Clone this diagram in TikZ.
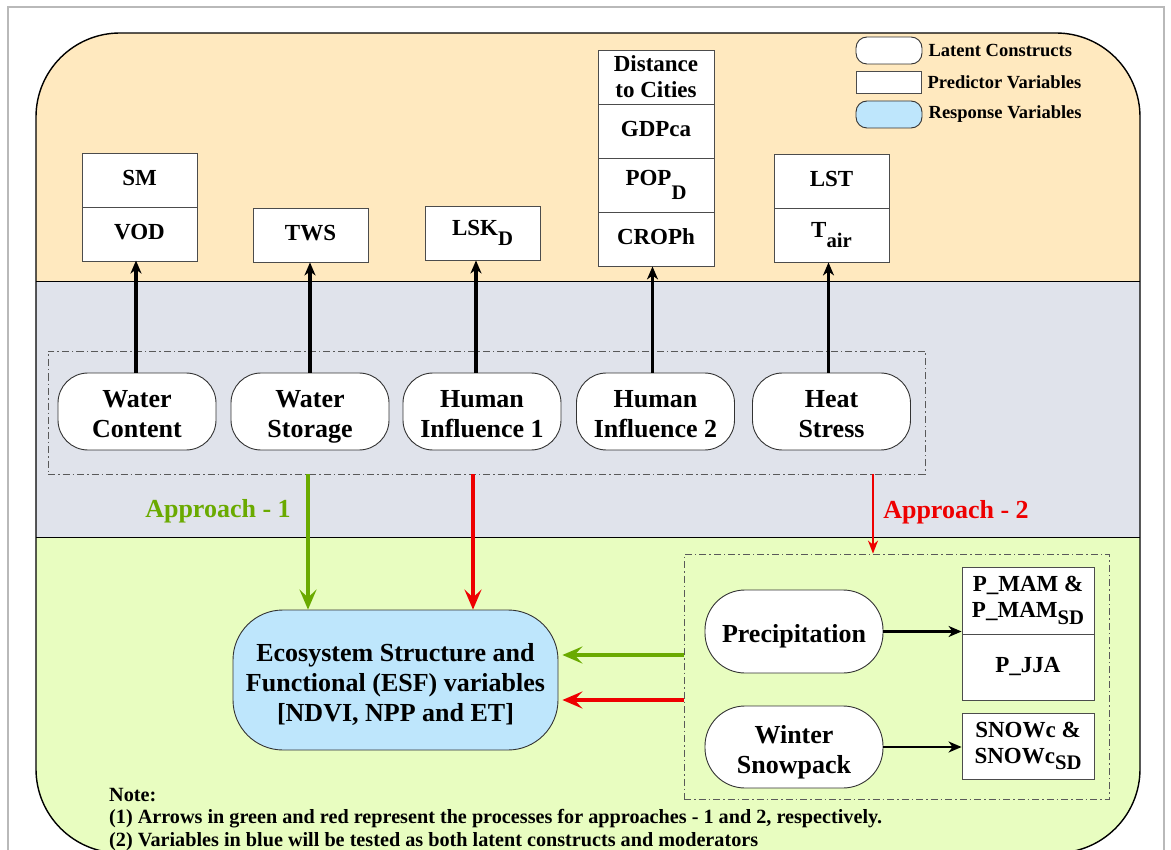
\documentclass[tikz,border=0pt]{standalone}
\usepackage{fontspec}
\usepackage{graphicx}
\setmainfont{Liberation Serif}
\usetikzlibrary{arrows.meta,positioning}

\definecolor{bandtop}{RGB}{255,233,191}
\definecolor{bandmid}{RGB}{224,227,235}
\definecolor{bandlow}{RGB}{232,253,192}
\definecolor{respblue}{RGB}{190,230,252}
\definecolor{apgreen}{RGB}{106,170,0}
\definecolor{apred}{RGB}{238,0,0}
\definecolor{framegray}{RGB}{185,185,185}

\newcommand{\lowsub}[2][0.4em]{\raisebox{-#1}{\scalebox{0.9}{#2}}}
\newcommand{\latstrut}{\rule{0pt}{28pt}}

\tikzset{
  latent/.style={draw=black!80, line width=0.9pt, fill=white, rounded corners=30pt,
    minimum width=158pt, minimum height=77pt, inner sep=0pt, align=center,
    font=\fontsize{26}{30}\selectfont\bfseries},
  predictor/.style={draw=black!70, line width=0.9pt, fill=white, minimum width=115pt,
    minimum height=54pt, inner sep=0pt, align=center,
    font=\fontsize{23}{26}\selectfont\bfseries,
    execute at end node=\vphantom{g}},
  response/.style={draw=black!80, line width=0.9pt, fill=respblue, rounded corners=50pt,
    inner sep=0pt, align=center, font=\fontsize{26}{30}\selectfont\bfseries},
  groupbox/.style={draw=black!65, line width=0.8pt,
    dash pattern=on 7pt off 3pt on 1.5pt off 3pt, inner sep=0pt},
  legendtext/.style={inner sep=0pt, font=\fontsize{18.5}{20}\selectfont\bfseries},
  uparrow/.style={-{Stealth[length=13pt,width=11pt,inset=4pt]}, line width=3.3pt},
  approach/.style={-{Stealth[length=20pt,width=17pt,inset=8pt]}, line width=3.6pt},
}

\begin{document}
\begin{tikzpicture}[x=1pt, y=-1pt, font=\bfseries]
	\useasboundingbox (0,0) rectangle (1171,850);
	\draw[framegray, line width=1.2pt] (8,851) -- (8,7) -- (1164,7) -- (1164,851);
	% three bands inside the rounded frame
	\begin{scope}
		\clip[rounded corners=84pt] (36,33) rectangle (1140,853);
		\fill[bandtop] (36,33) rectangle (1140,282);
		\fill[bandmid] (36,282) rectangle (1140,537);
		\fill[bandlow] (36,537) rectangle (1140,853);
		\draw[line width=1pt] (36,282) -- (1140,282) (36,537) -- (1140,537);
	\end{scope}
	\draw[rounded corners=84pt, line width=1.4pt] (36,33) rectangle (1140,853);

	% legend
	\node[draw=black!80, line width=0.9pt, fill=white, minimum width=66pt, minimum height=27pt, rounded corners=11pt] (lglat) at (889,50.5) {};
	\node[draw=black!70, line width=0.9pt, fill=white, minimum width=65pt, minimum height=22pt] (lgpred) at (888.5,82) {};
	\node[response, minimum width=66pt, minimum height=27pt, rounded corners=11pt] (lgresp) at (889,114.5) {};
	\node[legendtext, right=6pt of lglat] {Latent Constructs};
	\node[legendtext, right=6pt of lgpred] {Predictor Variables};
	\node[legendtext, right=6pt of lgresp] {Response Variables};

	% predictor variables
	\node[predictor] (sm) at (139.5,180) {SM};
	\node[predictor] (vod) at (139.5,234) {VOD};
	\node[predictor] (tws) at (310.5,235) {TWS};
	\node[predictor] (lsk) at (482.5,233) {LSK\lowsub{D}};
	\node[predictor, minimum width=116pt] (dist) at (656,77) {\rule{0pt}{21pt}Distance\\to Cities};
	\node[predictor, minimum width=116pt] (gdp) at (656,131) {GDPca};
	\node[predictor, minimum width=116pt] (pop) at (656,185) {POP\lowsub[0.6em]{D}};
	\node[predictor, minimum width=116pt] (crop) at (656,239) {CROPh};
	\node[predictor] (lst) at (831.5,181) {LST};
	\node[predictor] (tair) at (831.5,235) {T\lowsub[0.45em]{air}};

	% latent constructs
	\node[groupbox, minimum width=877pt, minimum height=123pt] (latgrp) at (486.5,412.5) {};
	\node[latent] (wc) at (137,411.5) {\latstrut Water\\Content\vphantom{g}};
	\node[latent] (ws) at (310,411.5) {\latstrut Water\\Storage};
	\node[latent] (hi1) at (482,411.5) {\latstrut Human\\Influence 1\vphantom{g}};
	\node[latent] (hi2) at (655.5,411.5) {\latstrut Human\\Influence 2\vphantom{g}};
	\node[latent] (hs) at (831.5,411.5) {\latstrut Heat\\Stress\vphantom{g}};

	\draw[uparrow] (wc.north) ++(-1,0) -- ++(0,-112);
	\draw[uparrow] (ws.north) -- (ws.north |- tws.south);
	\draw[uparrow] (hi1.north) ++(-6,0) coordinate (hiup) -- (hiup |- lsk.south);
	\draw[uparrow] (hi2.north) ++(-3,0) coordinate (hiupb) -- (hiupb |- crop.south);
	\draw[uparrow] (hs.north) ++(-3,0) coordinate (hsup) -- (hsup |- tair.south);

	% response variables
	\node[response, minimum width=325pt, minimum height=140pt] (esf) at (395.5,680)
		{\latstrut Ecosystem Structure and\\Functional (ESF) variables\\{}[NDVI, NPP and ET]};

	% approach 2 group
	\node[groupbox, minimum width=425pt, minimum height=245pt] (clim) at (896.5,676.5) {};
	\node[latent, minimum width=178pt, minimum height=83pt, rounded corners=40pt] (prec) at (794,631.5) {\latstrut Precipitation\vphantom{g}};
	\node[latent, minimum width=178pt, minimum height=82pt, rounded corners=40pt] (snow) at (794,747) {\latstrut Winter\\Snowpack};
	\node[predictor, minimum width=132pt, minimum height=67pt] (pmam) at (1028,600.5) {P\_MAM \&\\P\_MAM\lowsub[0.3em]{SD}};
	\node[predictor, minimum width=132pt, minimum height=66pt] (pjja) at (1028,667) {P\_JJA};
	\node[predictor, minimum width=132pt, minimum height=66pt] (snowc) at (1028,746) {SNOWc \&\\SNOWc\lowsub[0.3em]{SD}};

	\draw[uparrow, line width=2.6pt] (prec.east) -- (prec.east -| pjja.west);
	\draw[uparrow, line width=2.6pt] (snow.east) -- (snow.east -| snowc.west);

	% approaches
	\coordinate (gdown) at (308,474);
	\coordinate (rdown) at (473,474);
	\coordinate (rtwo) at (873,474);
	\draw[approach, apgreen] (gdown) -- (gdown |- esf.north);
	\draw[approach, apred] (rdown) -- (rdown |- esf.north);
	\draw[-{Stealth[length=13pt,width=10pt,inset=4pt]}, apred, line width=1.6pt] (rtwo) -- (rtwo |- clim.north);
	\draw[approach, apgreen, shorten >=4pt] (clim.west |- 0,655) -- (esf.east |- 0,655);
	\draw[approach, apred, shorten >=4pt] (clim.west |- 0,700) -- (esf.east |- 0,700);

	\node[apgreen, font=\fontsize{26}{28}\selectfont\bfseries] (ap1) at (218,511) {Approach - 1};
	\node[apred, font=\fontsize{26}{28}\selectfont\bfseries] (ap2) at (956,512) {Approach - 2};

	% note
	\node[anchor=north west, inner sep=0pt, align=left, font=\fontsize{20.2}{22.5}\selectfont\bfseries] (note) at (109,788)
		{Note:\\(1) Arrows in green and red represent the processes for approaches - 1 and 2, respectively.\\(2) Variables in blue will be tested as both latent constructs and moderators};
\end{tikzpicture}
\end{document}
